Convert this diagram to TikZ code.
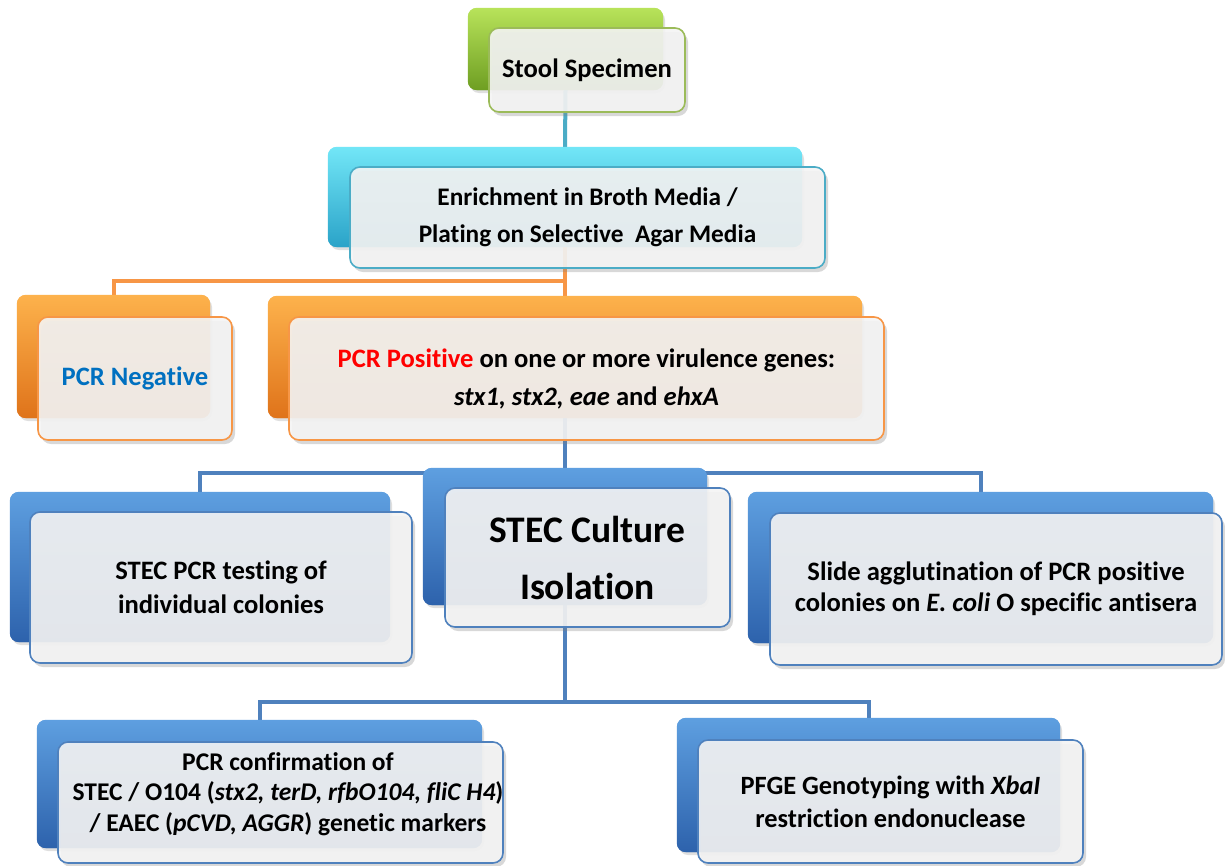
\documentclass[tikz,border=0pt]{standalone}
\usepackage{fontspec}
\setmainfont{Carlito}[Ligatures=NoCommon]
\usetikzlibrary{shadows}
\definecolor{grnT}{HTML}{B8E35A}
\definecolor{grnB}{HTML}{6E9E22}
\definecolor{grnL}{HTML}{9BBB59}
\definecolor{cyaT}{HTML}{72E6F7}
\definecolor{cyaB}{HTML}{2AA3C8}
\definecolor{cyaL}{HTML}{4BACC6}
\definecolor{oraT}{HTML}{FDB24C}
\definecolor{oraB}{HTML}{DF731A}
\definecolor{oraL}{HTML}{F79646}
\definecolor{bluT}{HTML}{5E9FE0}
\definecolor{bluB}{HTML}{2D62AC}
\definecolor{bluL}{HTML}{4F81BD}
\definecolor{frontfill}{HTML}{F4F4F4}
\definecolor{negblue}{HTML}{0070C0}
\definecolor{posred}{HTML}{FF0000}
\tikzset{
  backbox/.style n args={2}{rounded corners=9pt, draw=none, top color=#1, bottom color=#2,
    drop shadow={shadow xshift=2pt, shadow yshift=-3pt, opacity=0.25}},
  frontbox/.style={rounded corners=10pt, draw=#1, line width=1.6pt, fill=frontfill, fill opacity=0.9, text opacity=1,
    align=center, inner sep=0pt, font=\bfseries\fontsize{26.6}{38}\selectfont,
    drop shadow={shadow xshift=3pt, shadow yshift=-4pt, opacity=0.3}},
  labeltext/.style={align=center, inner sep=0pt, font=\bfseries\fontsize{25.5}{30.5}\selectfont},
  conn/.style={draw=#1, line width=4pt}
}
\begin{document}
\begin{tikzpicture}[x=1pt,y=-1pt]
\useasboundingbox[fill=white] (0,0) rectangle (1225,865);
% back boxes
\node[backbox={grnT}{grnB}, minimum width=195, minimum height=82] (stoolB) at (565.5,49) {};
\node[backbox={cyaT}{cyaB}, minimum width=474, minimum height=100] (enrB) at (565,197) {};
\node[backbox={oraT}{oraB}, minimum width=193, minimum height=123] (negB) at (113.5,356.5) {};
\node[backbox={oraT}{oraB}, minimum width=594, minimum height=122] (posB) at (565,357) {};
\node[backbox={bluT}{bluB}, minimum width=284, minimum height=137] (stecB) at (565,536.5) {};
\node[backbox={bluT}{bluB}, minimum width=380, minimum height=150] (leftB) at (200,567) {};
\node[backbox={bluT}{bluB}, minimum width=465, minimum height=151] (rightB) at (980.5,567.5) {};
\node[backbox={bluT}{bluB}, minimum width=445, minimum height=128] (blB) at (259.5,784) {};
\node[backbox={bluT}{bluB}, minimum width=383, minimum height=134] (brB) at (868.5,785) {};
% connectors
\coordinate (j1) at (565,281);
\coordinate (j2) at (565,473);
\coordinate (j3) at (565,702);
\draw[conn=cyaL] (stoolB.south) -- (enrB.north);
\draw[conn=oraL] (enrB.south) -- (posB.north);
\draw[conn=oraL] (j1) -| (negB.north);
\draw[conn=bluL] (posB.south) -- (stecB.north);
\draw[conn=bluL] (leftB.north) |- (j2) -| (rightB.north);
\draw[conn=bluL] (stecB.south) -- (j3);
\draw[conn=bluL] (blB.north) |- (j3) -| (brB.north);
% redraw back boxes over connector ends
\foreach \n/\t/\b in {stoolB/grnT/grnB,enrB/cyaT/cyaB,negB/oraT/oraB,posB/oraT/oraB,stecB/bluT/bluB,leftB/bluT/bluB,rightB/bluT/bluB,blB/bluT/bluB,brB/bluT/bluB}{
  \shade[rounded corners=9pt, top color=\t, bottom color=\b] (\n.north west) rectangle (\n.south east);
}
% front boxes
\node[frontbox=grnL, minimum width=196, minimum height=84] (stoolF) at (587,70) {Stool Specimen};
\node[frontbox=cyaL, minimum width=475, minimum height=101, font=\bfseries\fontsize{25.3}{37}\selectfont] (enrF) at (587.5,217.5) {Enrichment in Broth Media /\\Plating on Selective\ \ Agar Media};
\node[frontbox=oraL, minimum width=194, minimum height=123, text=negblue] (negF) at (135,378.5) {PCR Negative};
\node[frontbox=oraL, minimum width=595, minimum height=123] (posF) at (586.5,378.5) {\textcolor{posred}{PCR Positive} on one or more virulence genes:\\\textit{stx1, stx2, eae} and \textit{ehxA}};
\node[frontbox=bluL, minimum width=285, minimum height=139, font=\bfseries\fontsize{37.5}{57}\selectfont] (stecF) at (587.5,557.5) {STEC Culture\\Isolation};
\node[frontbox=bluL, minimum width=382, minimum height=151, font=\bfseries\fontsize{26.6}{34}\selectfont] (leftF) at (221,587.5) {STEC PCR testing of\\individual colonies};
\node[frontbox=bluL, minimum width=452, minimum height=152, font=\bfseries\fontsize{26.6}{31}\selectfont] (rightF) at (996,589) {Slide agglutination of PCR positive\\colonies on \textit{E. coli} O specific antisera};
\node[frontbox=bluL, minimum width=445, minimum height=121] (blF) at (280.5,802.5) {};
\node[labeltext] (blT) at (288,794) {PCR confirmation of\\STEC / O104 (\textit{stx2, terD, rfbO104, fliC H4})\\/ EAEC (\textit{pCVD, AGGR}) genetic markers};
\node[frontbox=bluL, minimum width=385, minimum height=123, font=\bfseries\fontsize{26.4}{33}\selectfont] (brF) at (890.5,801.5) {PFGE Genotyping with \textit{XbaI}\\restriction endonuclease};
\end{tikzpicture}
\end{document}
